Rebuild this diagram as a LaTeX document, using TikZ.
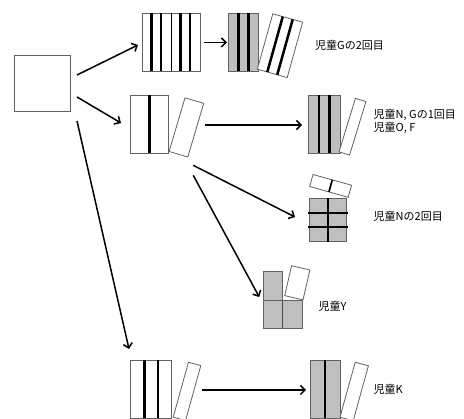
\documentclass[tikz,border=0pt]{standalone}
\usepackage{fontspec}
\newfontfamily\cjk{Noto Sans CJK JP}
\usetikzlibrary{arrows.meta,calc}
\begin{document}
\begin{tikzpicture}[x=1pt,y=-1pt,
  wbox/.style={draw=black!62, fill=white, line width=0.8pt, rectangle, inner sep=0pt, outer sep=0pt},
  gbox/.style={wbox, fill=black!25},
  thickl/.style={line width=2.5pt, black},
  medl/.style={line width=1.7pt, black},
  thinl/.style={line width=1pt, black},
  arr/.style={line width=1.5pt, black, -{Straight Barb[length=4.5pt,width=9pt,line width=1.5pt]}},
  lbl/.style={font=\cjk\fontsize{11}{13}\selectfont, anchor=west, inner sep=0pt, align=left}
]
\useasboundingbox (0,0) rectangle (464,419);

% left square
\node[wbox, minimum width=56pt, minimum height=56pt] (sq) at (42,83) {};

% row 1
\node[wbox, minimum width=58pt, minimum height=58pt] (s1) at (171,42.5) {};
\draw[thickl] ($(s1.north west)!1/6!(s1.north east)$) -- ($(s1.south west)!1/6!(s1.south east)$);
\draw[medl]   ($(s1.north west)!2/6!(s1.north east)$) -- ($(s1.south west)!2/6!(s1.south east)$);
\draw[thinl]  ($(s1.north west)!3/6!(s1.north east)$) -- ($(s1.south west)!3/6!(s1.south east)$);
\draw[thickl] ($(s1.north west)!4/6!(s1.north east)$) -- ($(s1.south west)!4/6!(s1.south east)$);
\draw[medl]   ($(s1.north west)!5/6!(s1.north east)$) -- ($(s1.south west)!5/6!(s1.south east)$);

\node[gbox, minimum width=30pt, minimum height=58pt] (g1) at (243.3,42.5) {};
\draw[thickl] ($(g1.north west)!1/3!(g1.north east)$) -- ($(g1.south west)!1/3!(g1.south east)$);
\draw[thickl] ($(g1.north west)!2/3!(g1.north east)$) -- ($(g1.south west)!2/3!(g1.south east)$);

\node[wbox, minimum width=31pt, minimum height=57.5pt, rotate=-15.6] (t1) at (280,45.7) {};
\draw[thickl] ($(t1.north west)!1/3!(t1.north east)$) -- ($(t1.south west)!1/3!(t1.south east)$);
\draw[thickl] ($(t1.north west)!2/3!(t1.north east)$) -- ($(t1.south west)!2/3!(t1.south east)$);

\node[lbl] (l1) at (315,45) {児童Gの2回目};

% row 2
\node[wbox, minimum width=37.6pt, minimum height=58.3pt] (w2) at (149.5,124.2) {};
\draw[thickl] (w2.north) -- (w2.south);
\node[wbox, minimum width=19.5pt, minimum height=56pt, rotate=-16.5] (t2) at (186.4,127.4) {};

\node[gbox, minimum width=31.7pt, minimum height=58.3pt] (g2) at (324.2,124.2) {};
\draw[thickl] ($(g2.north west)!1/3!(g2.north east)$) -- ($(g2.south west)!1/3!(g2.south east)$);
\draw[thickl] ($(g2.north west)!2/3!(g2.north east)$) -- ($(g2.south west)!2/3!(g2.south east)$);
\node[wbox, minimum width=11pt, minimum height=56pt, rotate=-17] (t2b) at (352.5,126.7) {};

\node[lbl] (l2) at (373.5,121.5) {児童N, Gの1回目\\児童O, F};

% row 3 (grid)
\node[gbox, minimum width=37.7pt, minimum height=43.4pt] (gr) at (327.9,220) {};
\draw[thickl] ([xshift=-1.5pt]$(gr.north west)!1/3!(gr.south west)$) -- ([xshift=1.5pt]$(gr.north east)!1/3!(gr.south east)$);
\draw[thickl] ([xshift=-1.5pt]$(gr.north west)!2/3!(gr.south west)$) -- ([xshift=1.5pt]$(gr.north east)!2/3!(gr.south east)$);
\draw[medl] (gr.north) -- (gr.south);
\node[wbox, minimum width=40pt, minimum height=12.5pt, rotate=-15.6] (t3) at (330.6,185.9) {};
\draw[medl] (t3.north) -- (t3.south);
\node[lbl] (l3) at (373.5,216.7) {児童Nの2回目};

% Y block
\node[gbox, minimum width=39pt, minimum height=28.3pt] (yb) at (282.8,314.2) {};
\draw[thinl, black!70] (yb.north) -- (yb.south);
\node[gbox, minimum width=19.5pt, minimum height=29pt] (yt) at (273,285.5) {};
\node[wbox, minimum width=18.8pt, minimum height=30.7pt, rotate=-13] (ty) at (297.3,282.8) {};
\node[lbl] (l4) at (318.3,306) {児童Y};

% bottom row
\node[wbox, minimum width=41pt, minimum height=58pt] (w4) at (151.2,389) {};
\draw[thickl] ($(w4.north west)!1/3!(w4.north east)$) -- ($(w4.south west)!1/3!(w4.south east)$);
\draw[thickl] ($(w4.north west)!2/3!(w4.north east)$) -- ($(w4.south west)!2/3!(w4.south east)$);
\node[wbox, minimum width=12.8pt, minimum height=57pt, rotate=-15.5] (t4) at (187,391.4) {};

\node[gbox, minimum width=30pt, minimum height=58pt] (g4) at (325,389) {};
\draw[thickl] (g4.north) -- (g4.south);
\node[wbox, minimum width=13.7pt, minimum height=57pt, rotate=-15.5] (t4b) at (354.2,391.5) {};
\node[lbl] (l5) at (373.5,389.5) {児童K};

% arrows
\draw[arr] ($(sq.east)+(7,-8)$) -- ($(s1.west)+(-4,2.5)$);
\draw[arr] ($(sq.east)+(7,14)$) -- ($(w2.west)+(-9.7,-1.2)$);
\draw[arr] ($(sq.south east)+(7,10)$) -- ($(w4.north west)+(-1.7,-11)$);
\draw[arr] ($(s1.east)+(4,0)$) -- ($(g1.west)+(-1.3,0)$);
\draw[arr] ($(w2.east)+(36.7,0.8)$) -- ($(g2.west)+(-6.3,0.8)$);
\draw[arr] ($(w2.south east)+(25,12)$) -- ($(gr.west)+(-14,-3)$);
\draw[arr] ($(w2.south east)+(25,22)$) -- ($(yt.west)+(-4,11.5)$);
\draw[arr] ($(w4.east)+(30.3,1)$) -- ($(g4.west)+(-4,1)$);
\end{tikzpicture}
\end{document}
